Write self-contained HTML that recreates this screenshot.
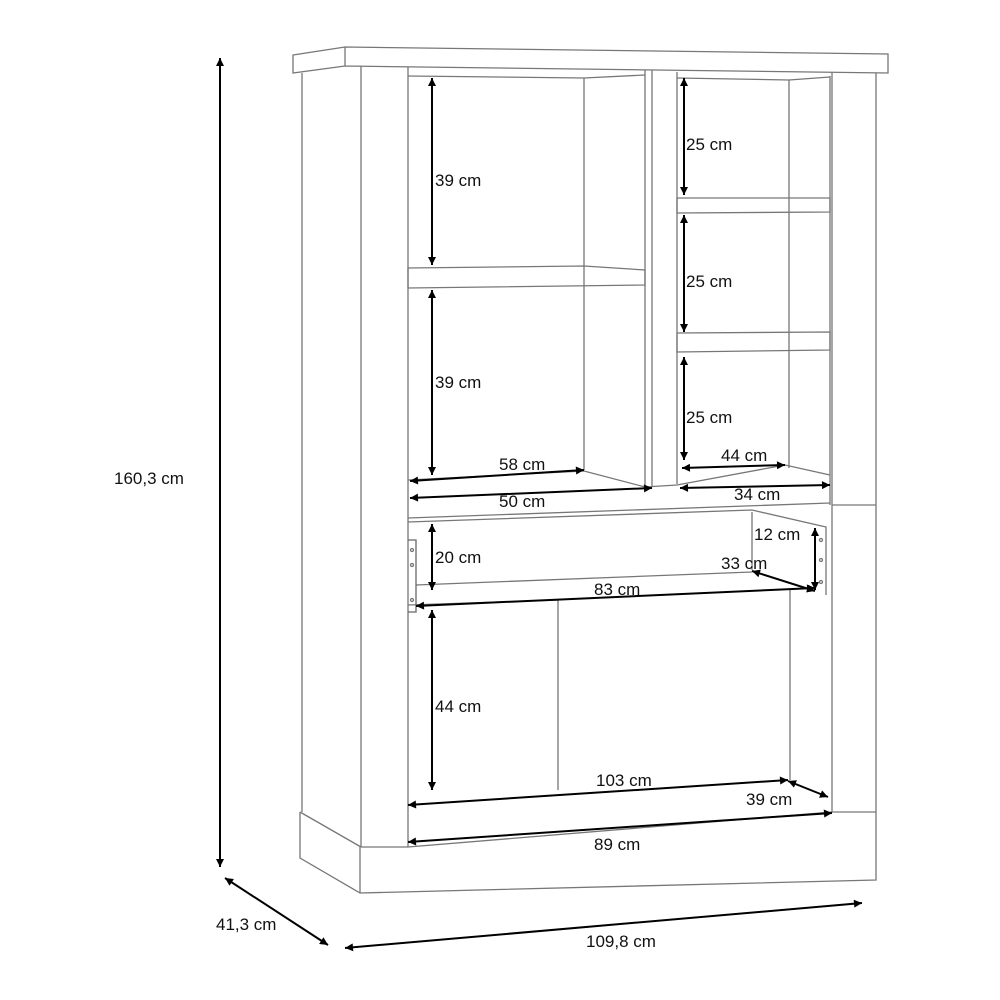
<!DOCTYPE html>
<html><head><meta charset="utf-8"><style>
html,body{margin:0;padding:0;background:#fff}
svg{display:block}
text{font-family:"Liberation Sans",sans-serif;font-size:17px;fill:#111}
</style></head><body>
<svg width="1000" height="1000" viewBox="0 0 1000 1000" xmlns="http://www.w3.org/2000/svg">
<defs>
<marker id="a" viewBox="0 0 10 10" refX="10" refY="5" markerWidth="12" markerHeight="8" orient="auto-start-reverse" markerUnits="userSpaceOnUse"><path d="M0,0L10,5L0,10z" fill="#000"/></marker>
</defs>
<g fill="none" stroke="#777" stroke-width="1.3">
<path d="M293,55 L345,47 L888,54 L888,73 L345,66 L293,73 Z M345,47 L345,66"/>
<path d="M302,73 L302,812 M361,66 L361,847 M408,67 L408,847"/>
<path d="M876,73 L876,812 M832,72 L832,812 M830,76 L830,505"/>
<path d="M645,70 L645,487 M652,70 L652,487 M677,72 L677,484"/>
<path d="M408,76 L584,78 L645,75 M677,78 L789,80 L830,77"/>
<path d="M584,78 L584,470 M789,80 L789,468 M558,600 L558,790 M790,590 L790,780 M752,512 L752,570"/>
<path d="M408,268 L584,266 L645,270 L645,285 L408,288 Z"/>
<path d="M677,198 L830,198 L830,212 L677,213 Z M677,333 L830,332 L830,350 L677,352 Z"/>
<path d="M408,480 L584,471 L645,487 L677,485 L785,465 L830,475 M408,518 L830,503 M832,505 L876,505"/>
<path d="M408,522 L752,510 L826,527 L826,595 M416,585 L752,572 M408,605 L558,600"/>
<path d="M408,540 L416,540 L416,612 L408,612" stroke="#666"/>
<circle cx="412" cy="550" r="1.5"/><circle cx="412" cy="565" r="1.5"/><circle cx="412" cy="600" r="1.5"/>
<circle cx="821" cy="540" r="1.5"/><circle cx="821" cy="560" r="1.5"/><circle cx="821" cy="582" r="1.5"/>
<path d="M408,847 L832,812"/>
<path d="M300,812 L300,858 L360,893 L876,880 L876,812 L832,812 M300,812 L361,847 M360,847 L360,893 M361,847 L408,847"/>
</g>
<g stroke="#000" stroke-width="2" fill="none" marker-start="url(#a)" marker-end="url(#a)">
<line x1="220" y1="58" x2="220" y2="867"/>
<line x1="225" y1="878" x2="328" y2="945"/>
<line x1="345" y1="948" x2="862" y2="903"/>
<line x1="432" y1="78" x2="432" y2="265"/>
<line x1="432" y1="290" x2="432" y2="475"/>
<line x1="684" y1="78" x2="684" y2="195"/>
<line x1="684" y1="215" x2="684" y2="332"/>
<line x1="684" y1="357" x2="684" y2="460"/>
<line x1="410" y1="481" x2="584" y2="470"/>
<line x1="410" y1="498" x2="652" y2="488"/>
<line x1="682" y1="468" x2="785" y2="465"/>
<line x1="680" y1="488" x2="830" y2="485"/>
<line x1="432" y1="524" x2="432" y2="590"/>
<line x1="815" y1="528" x2="815" y2="590"/>
<line x1="752" y1="571" x2="815" y2="591"/>
<line x1="416" y1="606" x2="815" y2="588"/>
<line x1="432" y1="610" x2="432" y2="790"/>
<line x1="408" y1="805" x2="788" y2="780"/>
<line x1="788" y1="781" x2="828" y2="797"/>
<line x1="408" y1="842" x2="832" y2="813"/>
</g>
<g>
<text x="114" y="484">160,3 cm</text>
<text x="216" y="930">41,3 cm</text>
<text x="586" y="947">109,8 cm</text>
<text x="435" y="186">39 cm</text>
<text x="435" y="388">39 cm</text>
<text x="686" y="150">25 cm</text>
<text x="686" y="287">25 cm</text>
<text x="686" y="423">25 cm</text>
<text x="499" y="470">58 cm</text>
<text x="499" y="507">50 cm</text>
<text x="721" y="461">44 cm</text>
<text x="734" y="500">34 cm</text>
<text x="435" y="563">20 cm</text>
<text x="754" y="540">12 cm</text>
<text x="721" y="569">33 cm</text>
<text x="594" y="595">83 cm</text>
<text x="435" y="712">44 cm</text>
<text x="596" y="786">103 cm</text>
<text x="746" y="805">39 cm</text>
<text x="594" y="850">89 cm</text>
</g>
</svg>
</body></html>
